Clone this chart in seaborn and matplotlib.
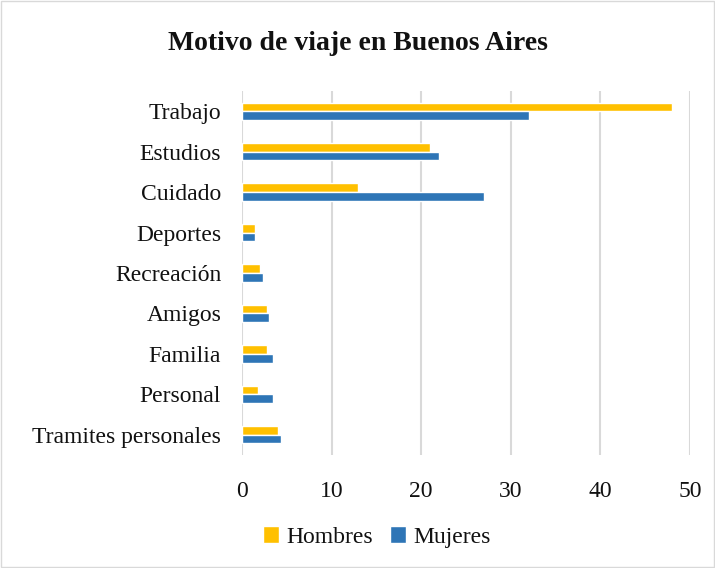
import matplotlib
matplotlib.use("Agg")
import matplotlib.pyplot as plt
import seaborn as sns
import pandas as pd
from matplotlib.patches import Rectangle

categorias = ["Trabajo", "Estudios", "Cuidado", "Deportes", "Recreación",
              "Amigos", "Familia", "Personal", "Tramites personales"]
hombres = [48, 21, 13, 1.5, 2.0, 2.8, 2.8, 1.8, 4.0]
mujeres = [32, 22, 27, 1.4, 2.3, 3.0, 3.5, 3.5, 4.3]
series = ["Hombres", "Mujeres"]
colores = ["#FFC000", "#2E75B6"]

df = pd.DataFrame({
    "Motivo": categorias * 2,
    "Valor": hombres + mujeres,
    "Sexo": [series[0]] * len(categorias) + [series[1]] * len(categorias),
})

sns.set_style("white")
plt.rcParams["font.family"] = ["Liberation Serif", "DejaVu Serif"]

fig = plt.figure(figsize=(7.15, 5.68), dpi=100)
ax = fig.add_axes([242 / 715, 1 - 455 / 568, (690 - 242) / 715, (455 - 91) / 568])

sns.barplot(data=df, y="Motivo", x="Valor", hue="Sexo", order=categorias,
            hue_order=series, palette=colores, orient="h", width=0.43,
            ax=ax, legend=True, saturation=1)

ax.set_xlim(0, 50)
ax.set_xticks([0, 10, 20, 30, 40, 50])
ax.set_ylim(len(categorias) - 0.5, -0.5)
ax.set_xlabel("")
ax.set_ylabel("")
for s in ax.spines.values():
    s.set_visible(False)
ax.grid(axis="x", color="#d9d9d9", linewidth=1.5)
ax.set_axisbelow(True)
ax.tick_params(axis="x", length=7, color="#d9d9d9", width=1.5, labelsize=17,
               pad=12, labelcolor="#111111")
ax.tick_params(axis="y", length=0, labelsize=17, pad=15, labelcolor="#111111")

fig.text(0.5, 1 - 43 / 568, "Motivo de viaje en Buenos Aires", ha="center",
         va="center", fontsize=20, fontweight="bold", color="#111111")

handles = ax.get_legend().legend_handles
ax.get_legend().remove()
centros = [318, 440]
for h, lab, cx in zip(handles, series, centros):
    fig.legend(handles=[h], labels=[lab], loc="center",
               bbox_to_anchor=(cx / 715, 1 - 537 / 568), frameon=False,
               fontsize=17, handlelength=0.7, handleheight=0.7,
               handletextpad=0.3, labelcolor="#111111")

fig.patches.append(Rectangle((0.002, 0.002), 0.996, 0.996, transform=fig.transFigure,
                             fill=False, edgecolor="#d9d9d9", linewidth=1))

fig.savefig("out.png", dpi=100)
